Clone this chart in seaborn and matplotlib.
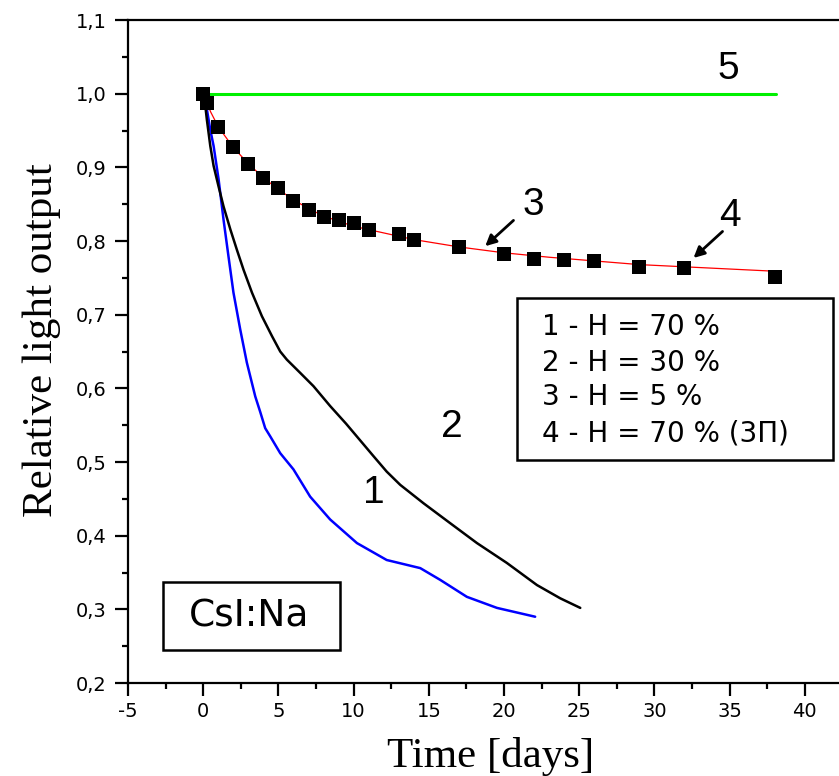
import numpy as np
import pandas as pd
import matplotlib
matplotlib.use("Agg")
import matplotlib.pyplot as plt
import seaborn as sns
from matplotlib.patches import Rectangle
from matplotlib.ticker import MultipleLocator, FuncFormatter

# ---- data ----
# curve 1 : H = 70 % (blue)
t1 = [0, 0.24, 0.47, 0.69, 1.02, 1.35, 1.68, 2.01, 2.46, 2.90, 3.46, 3.79, 4.12, 4.45,
      5.12, 6.0, 7.11, 8.44, 10.22, 12.2, 14.43, 15.76, 17.53, 19.53, 22.07]
y1 = [1.0, 0.979, 0.951, 0.929, 0.884, 0.829, 0.779, 0.730, 0.680, 0.635, 0.589, 0.568,
      0.546, 0.535, 0.512, 0.490, 0.453, 0.422, 0.390, 0.367, 0.356, 0.340, 0.317,
      0.302, 0.290]
# curve 2 : H = 30 % (black)
t2 = [0, 0.13, 0.24, 0.47, 0.69, 1.02, 1.35, 1.80, 2.24, 2.68, 3.24, 3.90, 4.57, 5.12,
      5.56, 6.45, 7.33, 8.44, 9.5, 11.32, 12.2, 13.1, 14.65, 16.42, 18.2, 20.19, 22.19,
      23.74, 25.07]
y2 = [1.0, 0.985, 0.965, 0.929, 0.902, 0.874, 0.847, 0.816, 0.788, 0.761, 0.730, 0.698,
      0.671, 0.650, 0.639, 0.621, 0.603, 0.576, 0.552, 0.508, 0.487, 0.469, 0.444, 0.417,
      0.390, 0.363, 0.333, 0.315, 0.302]
# curve 3 : H = 5 % (red fit line)
t3 = [0, 0.5, 1, 2, 3, 4, 5, 6, 7, 8, 10, 12, 14, 17, 20, 23, 26, 29, 32, 35, 38]
y3 = [1.0, 0.975, 0.955, 0.927, 0.905, 0.886, 0.870, 0.856, 0.844, 0.834, 0.820, 0.811,
      0.802, 0.792, 0.784, 0.778, 0.773, 0.768, 0.765, 0.762, 0.759]
# curve 4 : H = 70 % (3П) (black squares)
t4 = [0, 0.25, 1, 2, 3, 4, 5, 6, 7, 8, 9, 10, 11, 13, 14, 17, 20, 22, 24, 26, 29, 32, 38]
y4 = [1.0, 0.988, 0.955, 0.927, 0.905, 0.885, 0.872, 0.855, 0.842, 0.833, 0.828, 0.824,
      0.815, 0.810, 0.802, 0.792, 0.783, 0.776, 0.774, 0.773, 0.765, 0.764, 0.751]
# curve 5 (green reference)
t5 = [0, 38.1]
y5 = [1.0, 1.0]

legend_lines = ["1 - H = 70 %", "2 - H = 30 %", "3 - H = 5 %", "4 - H = 70 % (3П)"]
sample_label = "CsI:Na"
curve_labels = ["1", "2", "3", "4", "5"]
label_pos = [(11.32, 0.458), (16.5, 0.548), (21.96, 0.849), (35.04, 0.834), (34.9, 1.034)]
arrow_tail = [(20.63, 0.828), (34.53, 0.813)]
arrow_head = [(18.75, 0.793), (32.6, 0.777)]
xlabel = "Time [days]"
ylabel = "Relative light output"

# ---- plot ----
sns.set_style("ticks")
plt.rcParams['font.family'] = ['Liberation Sans', 'DejaVu Sans']
plt.rcParams['xtick.labelsize'] = 14
plt.rcParams['ytick.labelsize'] = 14
for k in ['text.color', 'axes.labelcolor', 'xtick.color', 'ytick.color',
          'axes.edgecolor', 'xtick.labelcolor', 'ytick.labelcolor']:
    plt.rcParams[k] = 'black'

fig = plt.figure(figsize=(8.39, 7.76), dpi=100)
ax = fig.add_axes([0.1526, 0.1198, 0.864, 0.8544])

sns.lineplot(x=t5, y=y5, ax=ax, color="#00f000", lw=2.2, sort=False)
sns.lineplot(x=t1, y=y1, ax=ax, color="#0000ff", lw=1.8, sort=False)
sns.lineplot(x=t2, y=y2, ax=ax, color="black", lw=1.8, sort=False)
sns.lineplot(x=t3, y=y3, ax=ax, color="red", lw=0.9, sort=False)
sns.scatterplot(x=t4, y=y4, ax=ax, marker="s", color="black", s=95, linewidth=0, zorder=5)

ax.set_xlim(-5, 43.2)
ax.set_ylim(0.2, 1.1)
ax.xaxis.set_major_locator(MultipleLocator(5))
ax.xaxis.set_minor_locator(MultipleLocator(2.5))
ax.yaxis.set_major_locator(MultipleLocator(0.1))
ax.yaxis.set_minor_locator(MultipleLocator(0.05))
ax.yaxis.set_major_formatter(FuncFormatter(lambda v, p: f"{v:.1f}".replace(".", ",")))
ax.xaxis.set_major_formatter(FuncFormatter(lambda v, p: f"{v:.0f}"))

for s in ["left", "bottom", "top"]:
    ax.spines[s].set_linewidth(1.6)
    ax.spines[s].set_color("black")
ax.spines["right"].set_visible(False)
ax.tick_params(which="major", direction="out", length=9.5, width=1.6, color="black")
ax.tick_params(which="minor", direction="out", length=4.5, width=1.6, color="black")
ax.tick_params(axis="y", which="major", pad=6)
ax.tick_params(axis="x", which="major", pad=4)
ax.tick_params(axis="both", which="major", labelsize=14, labelfontfamily="DejaVu Sans",
               labelcolor="black")
ax.set_xlabel("")
ax.set_ylabel("")

fig.text(491 / 839, 1 - 767 / 776, xlabel, fontsize=31, family="Liberation Serif",
         ha="center", va="baseline", color="black")
fig.text(42 / 839, 1 - 340 / 776, ylabel, fontsize=31, family="Liberation Serif",
         ha="center", va="center", rotation=90, color="black")

# curve labels
for lab, (x, y) in zip(curve_labels, label_pos):
    ax.text(x, y, lab, fontsize=28, ha="center", va="center", color="black")
for (xt, yt), (xh, yh) in zip(arrow_tail, arrow_head):
    ax.annotate("", xy=(xh, yh), xytext=(xt, yt),
                arrowprops=dict(arrowstyle="-|>", color="black", lw=2, mutation_scale=16,
                                shrinkA=0, shrinkB=0))

# legend box
ax.add_patch(Rectangle((0.5366, 0.3363), 0.9724 - 0.5366, 0.5807 - 0.3363,
                       transform=ax.transAxes, fill=False, lw=1.8, ec="black", zorder=6))
for i, (line, yy) in enumerate(zip(legend_lines, [0.537, 0.4827, 0.4314, 0.377])):
    ax.text(0.571, yy, line, transform=ax.transAxes, fontsize=20, ha="left", va="center",
            family="DejaVu Sans", color="black")

# sample box
ax.add_patch(Rectangle((0.0483, 0.0498), 0.2924 - 0.0483, 0.1523 - 0.0498,
                       transform=ax.transAxes, fill=False, lw=1.8, ec="black", zorder=6))
ax.text(0.1669, 0.101, sample_label, transform=ax.transAxes, fontsize=27,
        ha="center", va="center", family="DejaVu Sans", color="black")

fig.savefig("out.png", dpi=100)
